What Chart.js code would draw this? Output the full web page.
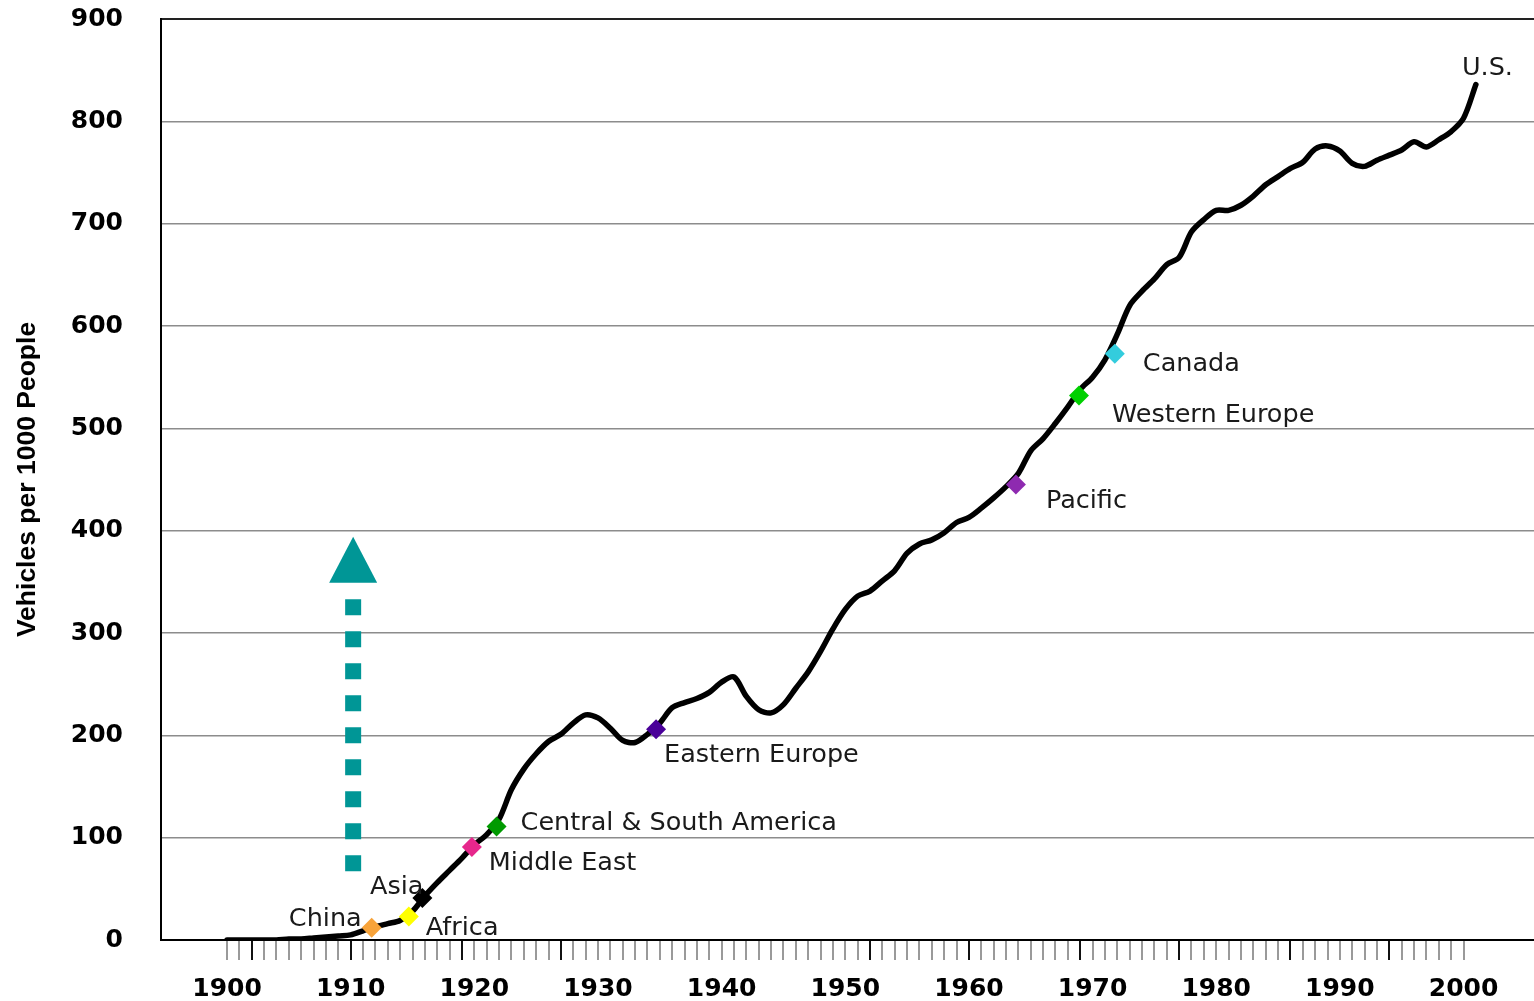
<!DOCTYPE html>
<html>
<head>
<meta charset="utf-8">
<title>Vehicles per 1000 People</title>
<script src="https://cdn.jsdelivr.net/npm/chart.js@4.4.1/dist/chart.umd.min.js"></script>
<style>
  html, body { margin: 0; padding: 0; background: #fff; overflow: hidden; }
  canvas { display: block; }
</style>
</head>
<body>
<canvas id="vehicleChart" width="1544" height="1001"></canvas>
<script>
// U.S. vehicle ownership curve
const years = [
  1900, 1901, 1902, 1903, 1904, 1905, 1906, 1907, 1908, 1909,
  1910, 1911, 1912, 1913, 1914, 1915, 1916, 1917, 1918, 1919,
  1920, 1921, 1922, 1923, 1924, 1925, 1926, 1927, 1928, 1929,
  1930, 1931, 1932, 1933, 1934, 1935, 1936, 1937, 1938, 1939,
  1940, 1941, 1942, 1943, 1944, 1945, 1946, 1947, 1948, 1949,
  1950, 1951, 1952, 1953, 1954, 1955, 1956, 1957, 1958, 1959,
  1960, 1961, 1962, 1963, 1964, 1965, 1966, 1967, 1968, 1969,
  1970, 1971, 1972, 1973, 1974, 1975, 1976, 1977, 1978, 1979,
  1980, 1981, 1982, 1983, 1984, 1985, 1986, 1987, 1988, 1989,
  1990, 1991, 1992, 1993, 1994, 1995, 1996, 1997, 1998, 1999,
  2000, 2001
];
const vehicles = [
  0, 0, 0, 0, 0, 1, 1, 2, 3, 4,
  5, 9, 13, 16, 19, 28, 43, 56, 68, 80,
  93, 103, 118, 147, 167, 182, 194, 201, 212, 220,
  217, 207, 195, 193, 201, 212, 227, 232, 236, 242,
  252, 257, 238, 225, 222, 230, 246, 262, 282, 304,
  323, 336, 341, 351, 361, 378, 387, 391, 398, 408,
  413, 422, 432, 443, 456, 478, 490, 505, 521, 538,
  550, 567, 592, 620, 634, 646, 660, 667, 692, 704,
  713, 713, 718, 727, 738, 746, 754, 760, 773, 776,
  771, 759, 756, 762, 767, 772, 780, 775, 782, 790,
  803, 836
];

// where each region stands today on the U.S. curve
const regions = ['China', 'Africa', 'Asia', 'Middle East', 'Central & South America',
                 'Eastern Europe', 'Pacific', 'Western Europe', 'Canada'];
const regionYears = [1911.7, 1914.7, 1915.8, 1919.8, 1921.8, 1934.7, 1963.8, 1968.9, 1971.8];
const regionValues = [12, 23, 41, 91, 111, 206, 445, 532, 573];

// axis ticks
const tickYears = [
  1900, 1901, 1902, 1903, 1904, 1905, 1906, 1907, 1908, 1909,
  1910, 1911, 1912, 1913, 1914, 1915, 1916, 1917, 1918, 1919,
  1920, 1921, 1922, 1923, 1924, 1925, 1926, 1927, 1928, 1929,
  1930, 1931, 1932, 1933, 1934, 1935, 1936, 1937, 1938, 1939,
  1940, 1941, 1942, 1943, 1944, 1945, 1946, 1947, 1948, 1949,
  1950, 1951, 1952, 1953, 1954, 1955, 1956, 1957, 1958, 1959,
  1960, 1961, 1962, 1963, 1964, 1965, 1966, 1967, 1968, 1969,
  1970, 1971, 1972, 1973, 1974, 1975, 1976, 1977, 1978, 1979,
  1980, 1981, 1982, 1983, 1984, 1985, 1986, 1987, 1988, 1989,
  1990, 1991, 1992, 1993, 1994, 1995, 1996, 1997, 1998, 1999,
  2000
];
const darkTicks = [1902, 1910, 1919, 1927, 1952, 1960, 1969, 1977, 1986, 1994];
const yTicks = [0, 100, 200, 300, 400, 500, 600, 700, 800, 900];

// growth arrow (year, value range)
const arrowYear = 1910.2;
const arrowFrom = 67;
const arrowTo = 333;
const arrowHeadBase = 349;
const arrowHeadTip = 394;

// styles
const regionColors = ['#F7A33A', '#FFFF00', '#000000', '#E6278C', '#009A00',
                      '#4A0099', '#8E2AB0', '#00D000', '#33CCDD'];
const labelOffsets = [
  { dx: -10, dy: -8, align: 'right' },
  { dx: 17, dy: 12, align: 'left' },
  { dx: 1, dy: -11, align: 'right' },
  { dx: 17, dy: 16, align: 'left' },
  { dx: 24, dy: -3, align: 'left' },
  { dx: 8, dy: 26, align: 'left' },
  { dx: 30, dy: 17, align: 'left' },
  { dx: 33, dy: 20, align: 'left' },
  { dx: 28, dy: 11, align: 'left' }
];
const teal = '#009696';

// draws the arrow and the region labels
const annotations = {
  id: 'annotations',
  afterDatasetsDraw(chart) {
    const { ctx, scales: { x, y } } = chart;
    ctx.save();

    const ax = x.getPixelForValue(arrowYear);
    ctx.strokeStyle = teal;
    ctx.lineWidth = 16;
    ctx.setLineDash([16, 16]);
    ctx.beginPath();
    ctx.moveTo(ax, y.getPixelForValue(arrowTo));
    ctx.lineTo(ax, y.getPixelForValue(arrowFrom));
    ctx.stroke();
    ctx.setLineDash([]);

    const hb = y.getPixelForValue(arrowHeadBase);
    const ht = y.getPixelForValue(arrowHeadTip);
    ctx.fillStyle = teal;
    ctx.beginPath();
    ctx.moveTo(ax - 24, hb);
    ctx.lineTo(ax + 24, hb);
    ctx.lineTo(ax, ht);
    ctx.closePath();
    ctx.fill();

    ctx.font = '25.5px "DejaVu Sans"';
    ctx.fillStyle = '#1a1a1a';
    ctx.textBaseline = 'middle';
    const pts = chart.getDatasetMeta(0).data;
    regions.forEach((name, i) => {
      const o = labelOffsets[i];
      ctx.textAlign = o.align;
      ctx.fillText(name, pts[i].x + o.dx, pts[i].y + o.dy);
    });

    const line = chart.getDatasetMeta(1).data;
    const last = line[line.length - 1];
    ctx.textAlign = 'left';
    ctx.fillText('U.S.', last.x - 14, last.y - 16);

    ctx.restore();
  }
};

const config = {
  type: 'line',
  data: {
    datasets: [{
      type: 'scatter',
      label: 'Regions',
      data: regions.map((r, i) => ({ x: regionYears[i], y: regionValues[i] })),
      pointStyle: 'rectRot',
      pointRadius: 10,
      pointBackgroundColor: regionColors,
      pointBorderWidth: 0,
      order: 1
    }, {
      label: 'U.S.',
      data: years.map((yr, i) => ({ x: yr, y: vehicles[i] })),
      borderColor: '#000',
      borderWidth: 5.5,
      borderJoinStyle: 'round',
      borderCapStyle: 'round',
      tension: 0.3,
      pointRadius: 0,
      order: 2
    }]
  },
  options: {
    responsive: false,
    animation: false,
    devicePixelRatio: 1,
    layout: { padding: { top: 19, right: 0, bottom: 0, left: 0 } },
    plugins: {
      legend: { display: false },
      tooltip: { enabled: false }
    },
    scales: {
      x: {
        type: 'linear',
        min: 1894.66,
        max: 2005.7,
        afterBuildTicks: (scale) => { scale.ticks = tickYears.map(v => ({ value: v })); },
        afterFit: (scale) => { scale.height = 61; },
        border: { display: true, color: '#000', width: 2 },
        grid: {
          drawOnChartArea: false,
          drawTicks: true,
          tickLength: 20,
          color: (ctx) => (ctx.tick && darkTicks.includes(ctx.tick.value) ? '#111' : '#9a9a9a'),
          lineWidth: 2
        },
        ticks: {
          autoSkip: false,
          maxRotation: 0,
          minRotation: 0,
          padding: 14,
          color: '#000',
          font: { family: '"DejaVu Sans"', size: 25, weight: 'bold' },
          callback: (v) => (v % 10 === 0 ? String(v) : '')
        }
      },
      y: {
        min: 0,
        max: 900,
        afterBuildTicks: (scale) => { scale.ticks = yTicks.map(v => ({ value: v })); },
        afterFit: (scale) => { scale.width = 161; },
        border: { display: true, color: '#000', width: 2 },
        grid: {
          drawTicks: true,
          tickLength: 34,
          tickColor: 'rgba(0,0,0,0)',
          color: (ctx) => (ctx.tick && ctx.tick.value === 900 ? '#222' : '#8c8c8c'),
          lineWidth: (ctx) => (ctx.tick && ctx.tick.value === 900 ? 2 : 1.5)
        },
        ticks: {
          padding: 4,
          color: '#000',
          font: { family: '"DejaVu Sans"', size: 25, weight: 'bold' }
        },
        title: {
          display: true,
          text: 'Vehicles per 1000 People',
          color: '#000',
          padding: { top: 12, bottom: 0 },
          font: { family: '"Liberation Sans", Arial, sans-serif', size: 26.5, weight: 'bold' }
        }
      }
    }
  },
  plugins: [annotations]
};

const vehicleChart = new Chart(
  document.getElementById('vehicleChart'),
  config
);
</script>
</body>
</html>
